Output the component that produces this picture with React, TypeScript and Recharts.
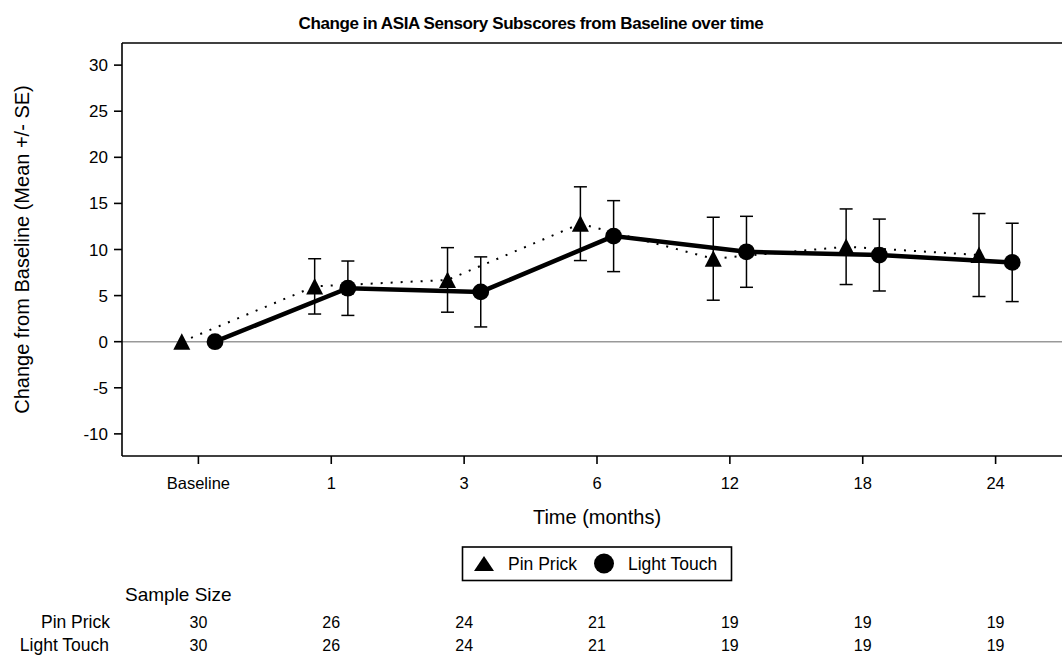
import React from "react";
import { ComposedChart, Scatter, XAxis, YAxis, ErrorBar, ReferenceLine } from "recharts";

const timeLabels = ["Baseline", "1", "3", "6", "12", "18", "24"];
const pinPrickMean = [0, 6.0, 6.7, 12.8, 9.0, 10.3, 9.4];
const pinPrickSE = [null, 3.0, 3.5, 4.0, 4.5, 4.1, 4.5];
const lightTouchMean = [0, 5.8, 5.4, 11.45, 9.75, 9.4, 8.6];
const lightTouchSE = [null, 2.95, 3.8, 3.85, 3.85, 3.9, 4.25];
const pinPrickN = [30, 26, 24, 21, 19, 19, 19];
const lightTouchN = [30, 26, 24, 21, 19, 19, 19];
const yTicks = [-10, -5, 0, 5, 10, 15, 20, 25, 30];

const FONT = "'Liberation Sans', Arial, sans-serif";
const DODGE = 0.125; // groups are shifted left/right of each time point
const Y_DOMAIN: [number, number] = [-12.4, 32.4];

const pinData = timeLabels.map((_, i) => ({ x: i - DODGE, y: pinPrickMean[i], se: pinPrickSE[i] }));
const lightData = timeLabels.map((_, i) => ({ x: i + DODGE, y: lightTouchMean[i], se: lightTouchSE[i] }));
const xTicks = timeLabels.map((_, i) => i);

const Triangle = ({ cx, cy }: any) => (
  <path d={`M${cx},${cy - 8.5} L${cx + 8.5},${cy + 8} L${cx - 8.5},${cy + 8} Z`} fill="#000" />
);
const Dot = ({ cx, cy }: any) => <circle cx={cx} cy={cy} r={8.4} fill="#000" />;

// tick label plus the sample-size numbers underneath the same time point
const TimeTick = ({ x, y, payload }: any) => {
  const i = payload.value;
  const common = { x, textAnchor: "middle" as const, fontFamily: FONT, fill: "#000" };
  return (
    <g>
      <text {...common} y={y + 23} fontSize={16.5}>{timeLabels[i]}</text>
      <text {...common} y={y + 162} fontSize={16}>{pinPrickN[i]}</text>
      <text {...common} y={y + 185} fontSize={16}>{lightTouchN[i]}</text>
    </g>
  );
};

export default function App() {
  return (
    <div style={{ position: "fixed", left: 0, top: 0, width: 1062, height: 655, overflow: "hidden", background: "#fff" }}>
      <ComposedChart width={1080} height={655} margin={{ top: 43, right: 8, bottom: 169, left: 62 }}>
        <XAxis
          type="number"
          dataKey="x"
          domain={[-0.575, 6.575]}
          ticks={xTicks}
          tick={<TimeTick />}
          tickSize={8}
          height={30}
          allowDataOverflow
          axisLine={{ stroke: "#000", strokeWidth: 1.6 }}
          tickLine={{ stroke: "#000", strokeWidth: 1.6 }}
          label={{ value: "Time (months)", position: "bottom", offset: 24, fill: "#000", fontSize: 20, fontFamily: FONT }}
        />
        <YAxis
          type="number"
          dataKey="y"
          domain={Y_DOMAIN}
          ticks={yTicks}
          allowDataOverflow
          width={60}
          tickSize={8}
          tickMargin={6}
          axisLine={{ stroke: "#000", strokeWidth: 1.6 }}
          tickLine={{ stroke: "#000", strokeWidth: 1.6 }}
          tick={{ fill: "#000", fontSize: 17, fontFamily: FONT }}
          label={{
            value: "Change from Baseline (Mean +/- SE)",
            angle: -90,
            position: "insideLeft",
            offset: -40,
            fill: "#000",
            fontSize: 20,
            fontFamily: FONT,
            style: { textAnchor: "middle" },
          }}
        />
        {/* top edge of the plot frame */}
        <ReferenceLine y={Y_DOMAIN[1]} stroke="#000" strokeWidth={1.6} ifOverflow="visible" />
        <ReferenceLine y={0} stroke="#999" strokeWidth={1.5} />
        <Scatter
          name="Pin Prick"
          data={pinData}
          shape={<Triangle />}
          line={{ stroke: "#000", strokeWidth: 2, strokeDasharray: "2 8" }}
          lineType="joint"
          isAnimationActive={false}
        >
          <ErrorBar dataKey="se" direction="y" width={6.5} stroke="#000" strokeWidth={1.5} isAnimationActive={false} />
        </Scatter>
        <Scatter
          name="Light Touch"
          data={lightData}
          shape={<Dot />}
          line={{ stroke: "#000", strokeWidth: 4.5 }}
          lineType="joint"
          isAnimationActive={false}
        >
          <ErrorBar dataKey="se" direction="y" width={6.5} stroke="#000" strokeWidth={1.5} isAnimationActive={false} />
        </Scatter>
      </ComposedChart>

      <svg width={1062} height={655} style={{ position: "absolute", left: 0, top: 0, pointerEvents: "none" }} fontFamily={FONT}>
        <text x={531} y={29} textAnchor="middle" fontSize={17} fontWeight="bold" letterSpacing={-0.4}>
          Change in ASIA Sensory Subscores from Baseline over time
        </text>

        <rect x={462.5} y={547} width={269} height={33.5} fill="#fff" stroke="#000" strokeWidth={1.6} />
        <path d="M484,556 L494,571 L474,571 Z" fill="#000" />
        <text x={508} y={570} fontSize={17.5}>Pin Prick</text>
        <circle cx={604} cy={563.5} r={10} fill="#000" />
        <text x={628} y={570} fontSize={17.5}>Light Touch</text>

        <text x={125} y={601} fontSize={19}>Sample Size</text>
        <text x={110} y={628} fontSize={17.5} textAnchor="end">Pin Prick</text>
        <text x={109} y={651} fontSize={17.5} textAnchor="end">Light Touch</text>
      </svg>
    </div>
  );
}
